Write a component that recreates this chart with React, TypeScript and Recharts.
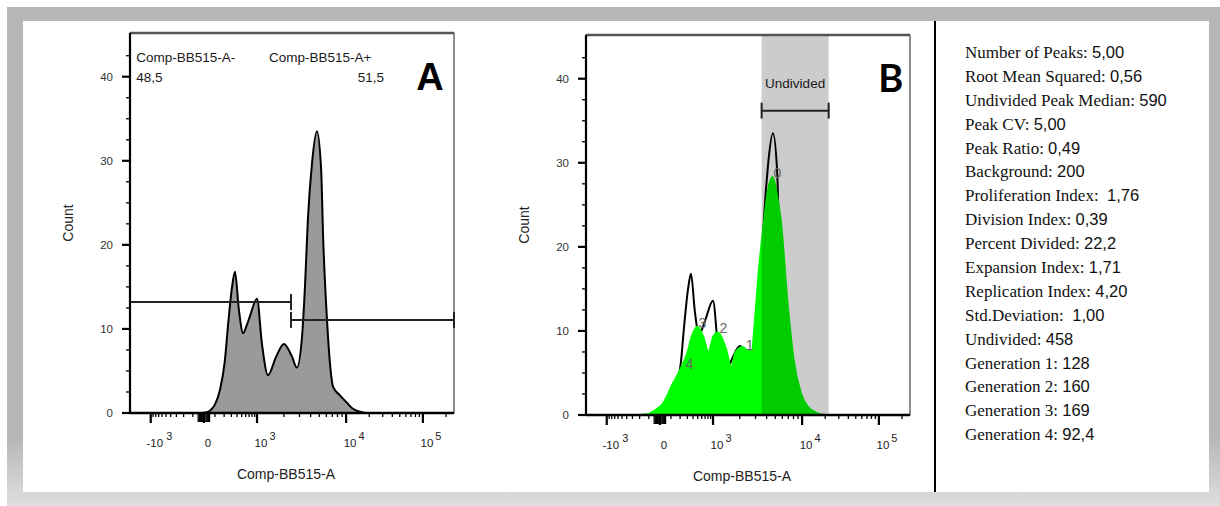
import React from 'react';
import { ComposedChart, Area, XAxis, YAxis, ReferenceLine, ReferenceArea, ReferenceDot } from 'recharts';

// ---------- data (x in display channel units 0..1000 of the logicle axis) ----------
const histChannels = [0, 220, 238, 250, 262, 278, 293, 302, 315, 324, 336, 349, 360, 370, 392, 407, 426, 451, 475, 500, 515, 531, 540, 549, 562, 577, 590, 596, 608, 617, 627, 648, 670, 688, 710, 731, 1000];
const histCounts = [0, 0, 0.1, 0.4, 1.0, 2.8, 6.3, 10.2, 15.0, 16.8, 12.3, 9.5, 10.4, 11.5, 13.6, 8.3, 4.5, 6.7, 8.2, 6.7, 5.4, 9.1, 15.0, 23.0, 29.8, 33.5, 28.9, 21.0, 11.1, 6.0, 3.1, 2.1, 1.2, 0.5, 0.15, 0, 0];

const fitChannels = [0, 150, 189, 215, 238, 269, 291, 313, 328, 344, 362, 378, 393, 406, 430, 449, 461, 483, 498, 511, 523, 533, 548, 560, 576, 590, 601, 622, 641, 663, 684, 715, 740, 1000];
const fitCounts = [0, 0, 0.1, 0.6, 1.4, 3.8, 5.4, 7.4, 9.5, 10.5, 9.3, 7.5, 9.3, 9.8, 8.1, 5.7, 7.4, 8.1, 7.7, 7.6, 12.0, 17.0, 22.5, 26.3, 28.3, 26.0, 23.2, 13.3, 6.5, 2.6, 1.0, 0.2, 0, 0];

const histogram = histChannels.map((ch, i) => ({ ch, count: histCounts[i] }));
const fit = fitChannels.map((ch, i) => ({ ch, fit: fitCounts[i] }));

const genLabels = ['0', '1', '2', '3', '4'];
const genChannels = [591, 505, 424, 359, 319];
const genCounts = [28.8, 8.3, 10.4, 11.0, 6.1];

const gateNegLabel = 'Comp-BB515-A-';
const gatePosLabel = 'Comp-BB515-A+';
const gateNegValue = '48,5';
const gatePosValue = '51,5';
const gateSplit = 497;
const gateNegLevel = 13.2;
const gatePosLevel = 11.07;

const undividedStart = 542;
const undividedEnd = 749;
const undividedLevel = 36.2;

const statNames = ['Number of Peaks:', 'Root Mean Squared:', 'Undivided Peak Median:', 'Peak CV:', 'Peak Ratio:', 'Background:', 'Proliferation Index: ', 'Division Index:', 'Percent Divided:', 'Expansion Index:', 'Replication Index:', 'Std.Deviation: ', 'Undivided:', 'Generation 1:', 'Generation 2:', 'Generation 3:', 'Generation 4:'];
const statValues = ['5,00', '0,56', '590', '5,00', '0,49', '200', '1,76', '0,39', '22,2', '1,71', '4,20', '1,00', '458', '128', '160', '169', '92,4'];

const yTicks = [0, 2.5, 5, 7.5, 10, 12.5, 15, 17.5, 20, 22.5, 25, 27.5, 30, 32.5, 35, 37.5, 40, 42.5];
const Y_MAX = 45.2;

const xMajorValues = [-1000, 0, 1000, 10000, 100000];
const xMajorBase = ['-10', '0', '10', '10', '10'];
const xMajorExp = ['3', '', '3', '4', '5'];
const xMinorValues = [-900, -800, -700, -600, -500, -400, -300, -200, -100, -50, -40, -30, -20, -10, 10, 20, 30, 40, 50, 100, 200, 300, 400, 500, 600, 700, 800, 900, 2000, 3000, 4000, 5000, 6000, 7000, 8000, 9000, 20000, 30000, 40000, 50000, 60000, 70000, 80000, 90000, 200000];

// logicle-like transform: data value -> display channel
function toChannel(v: number): number {
  const a = Math.abs(v);
  const s = Math.sign(v);
  let d: number;
  if (a <= 1000) d = (164 * Math.asinh(a / 200)) / Math.asinh(1000 / 200);
  else if (a <= 10000) d = 164 + 275 * Math.log10(a / 1000);
  else d = 164 + 275 + 237 * Math.log10(a / 10000);
  return 228 + s * d;
}

type TickInfo = { ch: number; major: boolean; near: boolean; base?: string; exp?: string };
const xTickInfo: TickInfo[] = [
  ...xMajorValues.map((v, i) => ({ ch: toChannel(v), major: true, near: false, base: xMajorBase[i], exp: xMajorExp[i] })),
  ...xMinorValues.map((v) => ({ ch: toChannel(v), major: false, near: Math.abs(v) <= 50 })),
];
const xTicks = xTickInfo.map((t) => t.ch);

const SANS = "'Liberation Sans', Arial, Helvetica, sans-serif";
const SERIF = "'Liberation Serif', 'Times New Roman', serif";

const XTick = (props: any) => {
  const { x, y, payload } = props;
  const info = xTickInfo.find((t) => Math.abs(t.ch - payload.value) < 1e-3);
  if (!info) return null;
  const len = info.major ? 10 : info.near ? 9 : 4;
  return (
    <g>
      <line x1={x} x2={x} y1={y} y2={y + len} stroke="#000" strokeWidth={info.major ? 2.2 : 1.3} />
      {info.base !== undefined && (
        <text x={x + 4} y={y + 34} textAnchor="middle" fontSize={11.5} fill="#222" fontFamily={SANS}>
          {info.base}
        </text>
      )}
      {info.base !== undefined && info.exp && (
        <text x={x + 4 + info.base.length * 3.2 + 2} y={y + 27} fontSize={11} fill="#222" fontFamily={SANS}>
          {info.exp}
        </text>
      )}
    </g>
  );
};

const YTick = (props: any) => {
  const { x, y, payload } = props;
  const major = payload.value % 10 === 0;
  return (
    <g>
      <line x1={x - (major ? 8 : 4)} x2={x} y1={y} y2={y} stroke="#000" strokeWidth={major ? 2.2 : 1.3} />
      {major && (
        <text x={x - 17} y={y + 4} textAnchor="end" fontSize={11.5} fill="#333" fontFamily={SANS}>
          {payload.value}
        </text>
      )}
    </g>
  );
};

const textShape = (value: string, anchor: 'start' | 'middle' | 'end', size: number, extra: any = {}) =>
  (p: any) => (
    <text x={p.cx} y={p.cy} textAnchor={anchor} fontSize={size} fontFamily={SANS} fill="#1a1a1a" {...extra}>
      {value}
    </text>
  );

const axes = [
  <XAxis
    key="x"
    xAxisId={0}
    dataKey="ch"
    type="number"
    domain={[0, 1000]}
    ticks={xTicks}
    interval={0}
    tick={<XTick />}
    tickLine={false}
    tickSize={0}
    tickMargin={0}
    height={75}
    allowDataOverflow
    axisLine={{ stroke: '#000', strokeWidth: 2.4 }}
    label={{ value: 'Comp-BB515-A', position: 'insideBottom', offset: 9, dx: -6, fontSize: 14, fill: '#222', fontFamily: SANS }}
  />,
  <YAxis
    key="y"
    yAxisId={0}
    type="number"
    domain={[0, Y_MAX]}
    ticks={yTicks}
    interval={0}
    tick={<YTick />}
    tickLine={false}
    tickSize={0}
    tickMargin={0}
    width={124}
    allowDataOverflow
    axisLine={{ stroke: '#000', strokeWidth: 2.2 }}
    label={{ value: 'Count', angle: -90, position: 'center', fontSize: 14, fill: '#222', fontFamily: SANS }}
  />,
];

function PanelA() {
  return (
    <ComposedChart width={470} height={506} data={histogram} margin={{ top: 33, right: 16, bottom: 18, left: 6 }}>
      {axes}
      <ReferenceArea x1={0} x2={1000} y1={0} y2={Y_MAX} fill="none" stroke="#444" strokeWidth={1.2} />
      <ReferenceLine y={Y_MAX} stroke="#555" strokeWidth={2.5} />
      <Area dataKey="count" type="monotone" stroke="#000" strokeWidth={2} fill="#9a9a9a" fillOpacity={1} isAnimationActive={false} dot={false} activeDot={false} />
      <ReferenceLine segment={[{ x: 0, y: gateNegLevel }, { x: gateSplit, y: gateNegLevel }]} stroke="#222" strokeWidth={2} />
      <ReferenceLine segment={[{ x: 0, y: gateNegLevel - 1.1 }, { x: 0, y: gateNegLevel + 1.1 }]} stroke="#222" strokeWidth={2} />
      <ReferenceLine segment={[{ x: gateSplit, y: gateNegLevel - 0.95 }, { x: gateSplit, y: gateNegLevel + 0.95 }]} stroke="#222" strokeWidth={2} />
      <ReferenceLine segment={[{ x: gateSplit, y: gatePosLevel }, { x: 1000, y: gatePosLevel }]} stroke="#222" strokeWidth={2} />
      <ReferenceLine segment={[{ x: gateSplit, y: gatePosLevel - 0.95 }, { x: gateSplit, y: gatePosLevel + 0.95 }]} stroke="#222" strokeWidth={2} />
      <ReferenceLine segment={[{ x: 1000, y: gatePosLevel - 0.95 }, { x: 1000, y: gatePosLevel + 0.95 }]} stroke="#222" strokeWidth={2} />
      <ReferenceDot x={19} y={41.8} r={0} shape={textShape(gateNegLabel, 'start', 13.5)} />
      <ReferenceDot x={19} y={39.4} r={0} shape={textShape(gateNegValue, 'start', 13.5)} />
      <ReferenceDot x={429} y={41.8} r={0} shape={textShape(gatePosLabel, 'start', 13.5)} />
      <ReferenceDot x={784} y={39.4} r={0} shape={textShape(gatePosValue, 'end', 13.5)} />
      <ReferenceDot x={926} y={38.45} r={0} shape={textShape('A', 'middle', 38, { fontWeight: 700, fill: '#000' })} />
    </ComposedChart>
  );
}

function PanelB() {
  return (
    <ComposedChart width={470} height={506} margin={{ top: 33, right: 16, bottom: 18, left: 6 }}>
      {axes}
      <Area data={histogram} dataKey="count" type="monotone" stroke="#000" strokeWidth={2} fill="none" isAnimationActive={false} dot={false} activeDot={false} />
      <Area data={fit} dataKey="fit" type="monotone" stroke="#00ff00" strokeWidth={2} fill="#00ff00" fillOpacity={1} isAnimationActive={false} dot={false} activeDot={false} />
      <ReferenceArea x1={undividedStart} x2={undividedEnd} y1={0} y2={Y_MAX} fill="#000" fillOpacity={0.2} stroke="none" />
      <ReferenceArea x1={0} x2={1000} y1={0} y2={Y_MAX} fill="none" stroke="#444" strokeWidth={1.2} />
      <ReferenceLine y={Y_MAX} stroke="#555" strokeWidth={2.5} />
      <ReferenceLine segment={[{ x: undividedStart, y: undividedLevel }, { x: undividedEnd, y: undividedLevel }]} stroke="#222" strokeWidth={2} />
      <ReferenceLine segment={[{ x: undividedStart, y: undividedLevel - 0.95 }, { x: undividedStart, y: undividedLevel + 0.95 }]} stroke="#222" strokeWidth={2} />
      <ReferenceLine segment={[{ x: undividedEnd, y: undividedLevel - 0.95 }, { x: undividedEnd, y: undividedLevel + 0.95 }]} stroke="#222" strokeWidth={2} />
      <ReferenceDot x={(undividedStart + undividedEnd) / 2} y={38.9} r={0} shape={textShape('Undivided', 'middle', 13.5)} />
      <ReferenceDot x={941} y={38.45} r={0} shape={textShape('B', 'middle', 38, { fontWeight: 700, fill: '#000', fontFamily: "Lato, 'Open Sans', sans-serif" })} />
      {genLabels.map((g, i) => (
        <ReferenceDot key={g} x={genChannels[i]} y={genCounts[i]} r={0} shape={textShape(g, 'middle', 14, { dy: 5, fill: '#666' })} />
      ))}
    </ComposedChart>
  );
}

export default function App() {
  return (
    <div style={{ position: 'absolute', left: 0, top: 0, width: 1220, height: 506, background: '#fff', overflow: 'hidden' }}>
      <div
        style={{
          position: 'absolute', left: 7, top: 7, width: 1213, height: 499,
          background: 'linear-gradient(180deg, #b5b6b5 0%, #b5b6b5 86%, #d6d6d6 97%, #dedede 100%)',
        }}
      />
      <div style={{ position: 'absolute', left: 23, top: 21, width: 1186, height: 471, background: '#fff' }} />
      <div style={{ position: 'absolute', left: 0, top: 0 }}>
        <PanelA />
      </div>
      <div style={{ position: 'absolute', left: 456, top: 2 }}>
        <PanelB />
      </div>
      <div style={{ position: 'absolute', left: 934, top: 21, width: 2, height: 471, background: '#000' }} />
      <div style={{ position: 'absolute', left: 965, top: 41, color: '#111' }}>
        {statNames.map((n, i) => (
          <div key={n} style={{ height: 23.9, lineHeight: '23.9px', whiteSpace: 'pre' }}>
            <span style={{ fontFamily: SERIF, fontSize: 17 }}>{n} </span>
            <span style={{ fontFamily: SANS, fontSize: 16.5 }}>{statValues[i]}</span>
          </div>
        ))}
      </div>
    </div>
  );
}
